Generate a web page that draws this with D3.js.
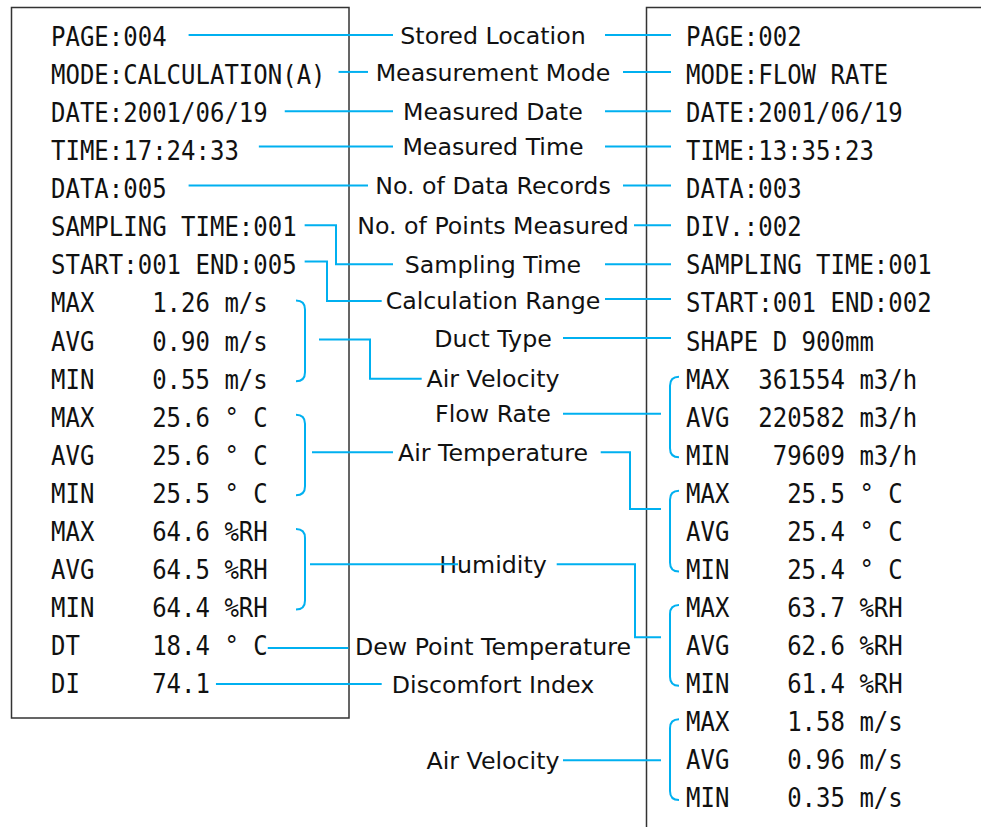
<!DOCTYPE html>
<html>
<head>
<meta charset="utf-8">
<script src="https://cdn.jsdelivr.net/npm/d3@7/dist/d3.min.js"></script>
<style>
  body { margin: 0; background: #fff; }
</style>
</head>
<body>
<div id="chart"></div>
<script>
// printout on the left (calculation mode) and on the right (flow rate mode)
var leftRows = [
    "PAGE:004", "MODE:CALCULATION(A)", "DATE:2001/06/19", "TIME:17:24:33",
    "DATA:005", "SAMPLING TIME:001", "START:001 END:005",
    "MAX    1.26 m/s", "AVG    0.90 m/s", "MIN    0.55 m/s",
    "MAX    25.6 ° C", "AVG    25.6 ° C", "MIN    25.5 ° C",
    "MAX    64.6 %RH", "AVG    64.5 %RH", "MIN    64.4 %RH",
    "DT     18.4 ° C", "DI     74.1"
];
var rightRows = [
    "PAGE:002", "MODE:FLOW RATE", "DATE:2001/06/19", "TIME:13:35:23",
    "DATA:003", "DIV.:002", "SAMPLING TIME:001", "START:001 END:002",
    "SHAPE D 900mm",
    "MAX  361554 m3/h", "AVG  220582 m3/h", "MIN   79609 m3/h",
    "MAX    25.5 ° C", "AVG    25.4 ° C", "MIN    25.4 ° C",
    "MAX    63.7 %RH", "AVG    62.6 %RH", "MIN    61.4 %RH",
    "MAX    1.58 m/s", "AVG    0.96 m/s", "MIN    0.35 m/s"
];
// item names in the middle
var labels = [
    "Stored Location", "Measurement Mode", "Measured Date", "Measured Time",
    "No. of Data Records", "No. of Points Measured", "Sampling Time",
    "Calculation Range", "Duct Type", "Air Velocity", "Flow Rate",
    "Air Temperature", "Humidity", "Dew Point Temperature",
    "Discomfort Index", "Air Velocity"
];
// printout rows grouped by a brace (first, last)
var leftGroups = [[7, 9], [10, 12], [13, 15]];
var rightGroups = [[9, 11], [12, 14], [15, 17], [18, 20]];

// ---- layout ----
var width = 981, height = 827;
var cell = 14.45;               // printer character pitch
var cyan = "#00b0f0";
var midX = 493;

var row = d3.scaleLinear().domain([0, 20]).range([36, 797.4]);
var colL = d3.scaleLinear().domain([0, 1]).range([51, 51 + cell]);
var colR = d3.scaleLinear().domain([0, 1]).range([686, 686 + cell]);

// where each label sits on the row grid
var labelRows = [0, 0.97, 2, 2.93, 3.95, 5, 6.02, 6.96, 7.96, 9.03, 9.95, 10.96, 13.9, 16.05, 17.05, 19.05];

var svg = d3.select("#chart").append("svg")
    .attr("width", width)
    .attr("height", height);

// printout frames
svg.append("rect")
    .attr("x", 11.5).attr("y", 7.5)
    .attr("width", 337.5).attr("height", 710.5)
    .attr("fill", "none").attr("stroke", "#333").attr("stroke-width", 1.5);

svg.append("path")
    .attr("d", "M" + width + ",7.5H646.5V" + height)
    .attr("fill", "none").attr("stroke", "#333").attr("stroke-width", 1.5);

function printRows(rows, col) {
    svg.append("g").selectAll("text")
        .data(rows)
        .enter().append("text")
        .attr("x", col(0))
        .attr("y", function(d, i) { return row(i) + 10; })
        .attr("textLength", function(d) { return d.length * cell; })
        .attr("lengthAdjust", "spacingAndGlyphs")
        .style("font-family", "'DejaVu Sans Mono', monospace")
        .style("font-size", "27px")
        .style("fill", "#111")
        .style("white-space", "pre")
        .text(function(d) { return d; });
}
printRows(leftRows, colL);
printRows(rightRows, colR);

svg.append("g").selectAll("text")
    .data(labels)
    .enter().append("text")
    .attr("x", midX)
    .attr("y", function(d, i) { return row(labelRows[i]) + 7.7; })
    .attr("text-anchor", "middle")
    .style("font-family", "'DejaVu Sans', Verdana, sans-serif")
    .style("font-size", "23.7px")
    .style("fill", "#111")
    .text(function(d) { return d; });

// ---- connectors ----
function ly(i) { return row(labelRows[i]) - 1; }
function ty(r) { return row(r) - 1; }
function endL(r, gap) { return colL(leftRows[r].length) + gap; }

var inL1 = midX - 125, inL2 = midX - 111.3, inL3 = midX - 100;
var outR1 = midX + 70, outR2 = midX + 112, outR3 = midX + 130;
var toRight = colR(0) - 15, toBrace = colR(0) - 25;

var links = [
    [[endL(0, 22), ly(0)], [inL3, ly(0)]],
    [[endL(1, 13), ly(1)], [inL1, ly(1)]],
    [[endL(2, 17), ly(2)], [inL3, ly(2)]],
    [[endL(3, 20), ly(3)], [inL3, ly(3)]],
    [[endL(4, 22), ly(4)], [inL1, ly(4)]],
    [[endL(5, 8), ty(5)], [336, ty(5)], [336, ly(6)], [inL3, ly(6)]],
    [[endL(6, 8), ty(6) - 2], [327, ty(6) - 2], [327, ly(7) + 1], [inL2, ly(7) + 1]],
    [[319, ty(8)], [370, ty(8)], [370, ly(9)], [midX - 71.3, ly(9)]],
    [[312, ly(11)], [inL3, ly(11)]],
    [[310, ly(12)], [midX - 35, ly(12)]],
    [[endL(16, 0), ly(13) + 2], [348.3, ly(13) + 2]],
    [[endL(17, 6), ly(14)], [inL2, ly(14)]],

    [[outR2, ly(0)], [toRight, ly(0)]],
    [[outR3, ly(1)], [toRight, ly(1)]],
    [[outR2, ly(2)], [toRight, ly(2)]],
    [[outR2, ly(3)], [toRight, ly(3)]],
    [[outR3, ly(4)], [toRight, ly(4)]],
    [[midX + 141, ly(5)], [toRight, ly(5)]],
    [[outR2, ly(6)], [toRight, ly(6)]],
    [[outR2, ly(7) - 1], [toRight, ly(7) - 1]],
    [[outR1, ly(8)], [toRight, ly(8)]],
    [[outR1, ly(10)], [toBrace, ly(10)]],
    [[midX + 107.7, ly(11)], [630, ly(11)], [630, row(12.45) - 1], [toBrace, row(12.45) - 1]],
    [[midX + 63.7, ly(12)], [635, ly(12)], [635, row(15.82) - 1], [toBrace, row(15.82) - 1]],
    [[outR1, ly(15)], [toBrace, ly(15)]]
];

var line = d3.line();

svg.append("g").selectAll("path")
    .data(links)
    .enter().append("path")
    .attr("d", line)
    .attr("fill", "none")
    .attr("stroke", cyan)
    .attr("stroke-width", 2);

// braces: a vertical stroke with rounded ends
function brace(x, dir, r0, r1) {
    var y0 = row(r0) - 2, y1 = row(r1) + 2.5, k = 9;
    return "M" + (x + dir * k) + "," + y0 +
        "Q" + x + "," + y0 + " " + x + "," + (y0 + k) +
        "V" + (y1 - k) +
        "Q" + x + "," + y1 + " " + (x + dir * k) + "," + y1;
}

svg.append("g").selectAll("path")
    .data(leftGroups)
    .enter().append("path")
    .attr("d", function(d) { return brace(305, -1, d[0], d[1]); })
    .attr("fill", "none").attr("stroke", cyan).attr("stroke-width", 2);

svg.append("g").selectAll("path")
    .data(rightGroups)
    .enter().append("path")
    .attr("d", function(d) { return brace(670, 1, d[0], d[1]); })
    .attr("fill", "none").attr("stroke", cyan).attr("stroke-width", 2);
</script>
</body>
</html>
